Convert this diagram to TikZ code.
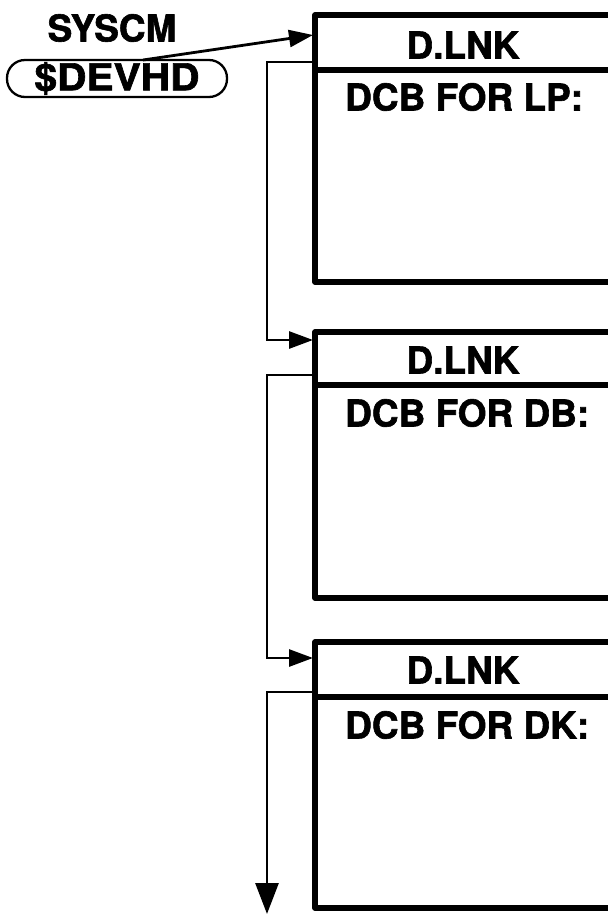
\documentclass[tikz,border=0pt]{standalone}
\usepackage{fontspec}
\setmainfont{TeX Gyre Heros}[BoldFeatures={FakeBold=1.6}]
\usetikzlibrary{arrows.meta}
\tikzset{
  boxline/.style={line width=5.5pt, line join=round},
  conn/.style={line width=2.8pt},
  harrow/.style={conn, -{Triangle[length=24pt,width=17pt]}},
  varrow/.style={conn, -{Triangle[length=31pt,width=23pt]}},
  big/.style={font=\fontsize{37}{40}\selectfont\bfseries, inner sep=0pt},
  hd/.style={big, anchor=center},
  dcb/.style={big, anchor=west},
}
\begin{document}
\begin{tikzpicture}[x=1pt,y=-1pt]
\useasboundingbox (0,0) rectangle (608,914);
\fill[white] (0,0) rectangle (608,914);
% boxes
\foreach \t/\d/\b in {15/70/282, 332/385/598, 642/697/908}{
  \draw[boxline] (620,\t) -- (315,\t) -- (315,\b) -- (620,\b);
  \draw[boxline] (315,\d) -- (620,\d);
}
% labels
\node[big] (syscm) at (112,28) {SYSCM};
\node[big, draw, line width=2.3pt, rounded corners=18pt, minimum width=220pt, minimum height=37pt, inner xsep=0pt] (devhd) at (117,78.5) {\scalebox{1.1}[1]{\$DEVHD}};
\node[hd] (h1) at (463,45) {D.LNK};
\node[dcb] (t1) at (345,97) {DCB FOR LP:};
\node[hd] (h2) at (463,360) {D.LNK};
\node[dcb] (t2) at (345,413) {DCB FOR DB:};
\node[hd] (h3) at (463,670) {D.LNK};
\node[dcb] (t3) at (345,725) {DCB FOR DK:};
% connector coordinates
\coordinate (s0) at (143,60);
\coordinate (in1) at (313,35);
\coordinate (out1) at (313,62);
\coordinate (in2) at (313,340);
\coordinate (out2) at (313,375);
\coordinate (in3) at (313,658);
\coordinate (out3) at (313,692);
\coordinate (end) at (267,914);
\draw[harrow] (s0) -- (in1);
\draw[harrow] (out1) -| (267,340) -- (in2);
\draw[harrow] (out2) -| (267,658) -- (in3);
\draw[varrow] (out3) -| (end);
\end{tikzpicture}
\end{document}
